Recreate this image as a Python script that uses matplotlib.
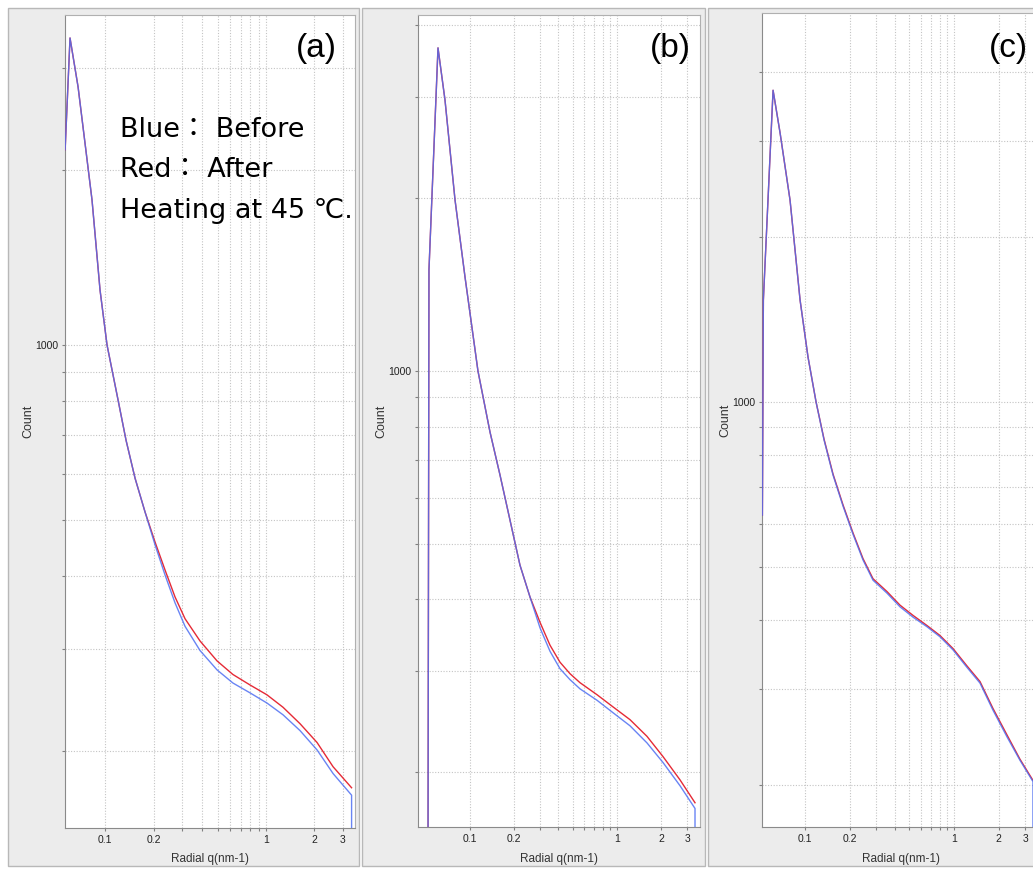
import matplotlib
matplotlib.use('Agg')
import matplotlib.pyplot as plt
from matplotlib.patches import Rectangle

W, H = 1033, 871

# ---- data (q in nm-1, counts) ----
# panel (a)
q_a = [0.0565, 0.0606, 0.0680, 0.0830, 0.0931, 0.1029, 0.1205, 0.1350, 0.1536, 0.1772,
       0.2045, 0.2359, 0.2721, 0.3140, 0.3891, 0.4962, 0.6229, 0.7950, 1.014, 1.275,
       1.626, 2.074, 2.61, 3.40]
a_blue = [2168, 3376, 2781, 1777, 1243, 1000, 804, 686, 590, 516,
          453, 402, 360, 328, 298, 276, 262, 252, 242, 231,
          217, 201, 183, 168]
a_red = [2168, 3376, 2781, 1777, 1243, 1000, 804, 686, 590, 516,
         458, 410, 368.5, 338, 309.5, 286, 271, 260, 250, 238,
         223, 207, 188, 173]

# panel (b)
q_b = [0.0517, 0.0526, 0.0606, 0.0676, 0.0791, 0.0925, 0.1133, 0.1368, 0.1600, 0.1871,
       0.2188, 0.2560, 0.2994, 0.3501, 0.4095, 0.4789, 0.560, 0.731, 0.939, 1.226,
       1.600, 2.056, 2.684, 3.394]
b_blue = [100, 1500, 3653, 2965, 1986, 1458, 1000, 783, 659, 550,
          459, 404, 357, 325, 303, 290, 279.5, 267, 254, 241,
          225, 208, 189.5, 173]
b_red = [100, 1500, 3653, 2965, 1986, 1458, 1000, 783, 659, 550,
         459, 404, 365, 333, 311, 297, 286.5, 273, 260, 247,
         231, 213, 194, 177]

# panel (c)
q_c = [0.0517, 0.0525, 0.0610, 0.0680, 0.0793, 0.0926, 0.1047, 0.1186, 0.1341, 0.1541,
       0.1799, 0.2099, 0.2450, 0.286, 0.355, 0.434, 0.531, 0.659, 0.805, 0.985,
       1.222, 1.495, 1.827, 2.268, 2.773, 3.390]
c_blue = [622, 1535, 3707, 3097, 2336, 1535, 1208, 1000, 853, 736,
          646, 574, 515, 473, 448, 423, 405, 389, 373, 353,
          328, 307, 274, 245, 222, 203]
c_red = [622, 1535, 3707, 3097, 2336, 1535, 1208, 1000, 856, 739,
         649, 577, 518, 476, 451, 426, 408, 391, 375, 355,
         330, 309, 276, 247, 223, 204]

x_ticks = [0.1, 0.2, 0.3, 0.4, 0.5, 0.6, 0.7, 0.8, 0.9, 1, 2, 3]
x_labels = ['0.1', '0.2', '', '', '', '', '', '', '', '1', '2', '3']
y_ticks = [200, 300, 400, 500, 600, 700, 800, 900, 1000, 2000, 3000, 4000]
y_labels = ['', '', '', '', '', '', '', '', '1000', '', '', '']

panels = [
    # q, blue, red, box(l,t,r,b px), xlim, ylim
    (q_a, a_blue, a_red, (65, 15, 355, 828), (0.0564, 3.57), (147.5, 3698)),
    (q_b, b_blue, b_red, (418, 15, 700, 827), (0.0443, 3.67), (160.6, 4168)),
    (q_c, c_blue, c_red, (762, 13, 1040, 827), (0.0514, 3.78), (167.7, 5129)),
]
grey_boxes = [(8, 8, 359, 866), (362, 8, 705, 866), (708, 8, 1045, 866)]


def fbox(l, t, r, b):
    return [l / W, 1 - b / H, (r - l) / W, (b - t) / H]


plt.rcParams['font.family'] = ['Liberation Sans', 'DejaVu Sans']
fig = plt.figure(figsize=(W / 100, H / 100), dpi=100)
fig.patch.set_facecolor('white')

for (l, t, r, b) in grey_boxes:
    fig.patches.append(Rectangle((l / W, 1 - b / H), (r - l) / W, (b - t) / H,
                                 transform=fig.transFigure, facecolor='#ececec',
                                 edgecolor='#b8b8b8', lw=1, zorder=-5))

for q, blue, red, bx, xl, yl in panels:
    ax = fig.add_axes(fbox(*bx))
    ax.set_zorder(1)
    ax.set_facecolor('white')
    ax.set_xscale('log')
    ax.set_yscale('log')
    ax.plot(q, red, color='#e52a36', lw=1.0, zorder=3)
    # blue curve ends with a drop to the bottom
    ax.plot(q + [q[-1]], blue + [100], color='#4f6ff2', lw=1.0, alpha=0.85, zorder=4)
    ax.xaxis.set_minor_locator(matplotlib.ticker.NullLocator())
    ax.yaxis.set_minor_locator(matplotlib.ticker.NullLocator())
    ax.set_xticks(x_ticks)
    ax.set_xticklabels(x_labels)
    ax.set_yticks(y_ticks)
    ax.set_yticklabels(y_labels)
    # limits after the ticks, so the ticks do not widen the view
    ax.set_xlim(*xl)
    ax.set_ylim(*yl)
    ax.tick_params(axis='both', length=2, width=0.8, color='#808080',
                   labelsize=7.5, labelcolor='#222222', pad=3)
    ax.grid(True, ls=(0, (1, 1.5)), color='#c4c4c4', lw=0.8)
    for s in ['left', 'bottom']:
        ax.spines[s].set_color('#8a8a8a')
    for s in ['top', 'right']:
        ax.spines[s].set_color('#b0b0b0')
    ax.set_xlabel('Radial q(nm-1)', fontsize=8.5, color='#333333')
    ax.set_ylabel('Count', fontsize=9, color='#333333')
    w = bx[2] - bx[0]
    hgt = bx[3] - bx[1]
    ax.xaxis.set_label_coords(0.5, -(853 - bx[3]) / hgt)
    ax.yaxis.set_label_coords(-31 / w, 0.5)

# panel letters
fig.text(316 / W, 1 - 48 / H, '(a)', fontsize=24, ha='center', va='center', zorder=5)
fig.text(670 / W, 1 - 48 / H, '(b)', fontsize=24, ha='center', va='center', zorder=5)
fig.text(1008 / W, 1 - 48 / H, '(c)', fontsize=24, ha='center', va='center', zorder=5)

# note in panel (a)
note_font = ['DejaVu Sans', 'Noto Sans CJK JP']
fig.text(120 / W, 1 - 137 / H, 'Blue： Before', fontsize=19.5, family=note_font,
         va='baseline', zorder=5)
fig.text(120 / W, 1 - 177 / H, 'Red： After', fontsize=19.5, family=note_font,
         va='baseline', zorder=5)
fig.text(120 / W, 1 - 218 / H, 'Heating at 45 ℃.', fontsize=19.5, family=note_font,
         va='baseline', zorder=5)

fig.savefig('out.png', dpi=100)
